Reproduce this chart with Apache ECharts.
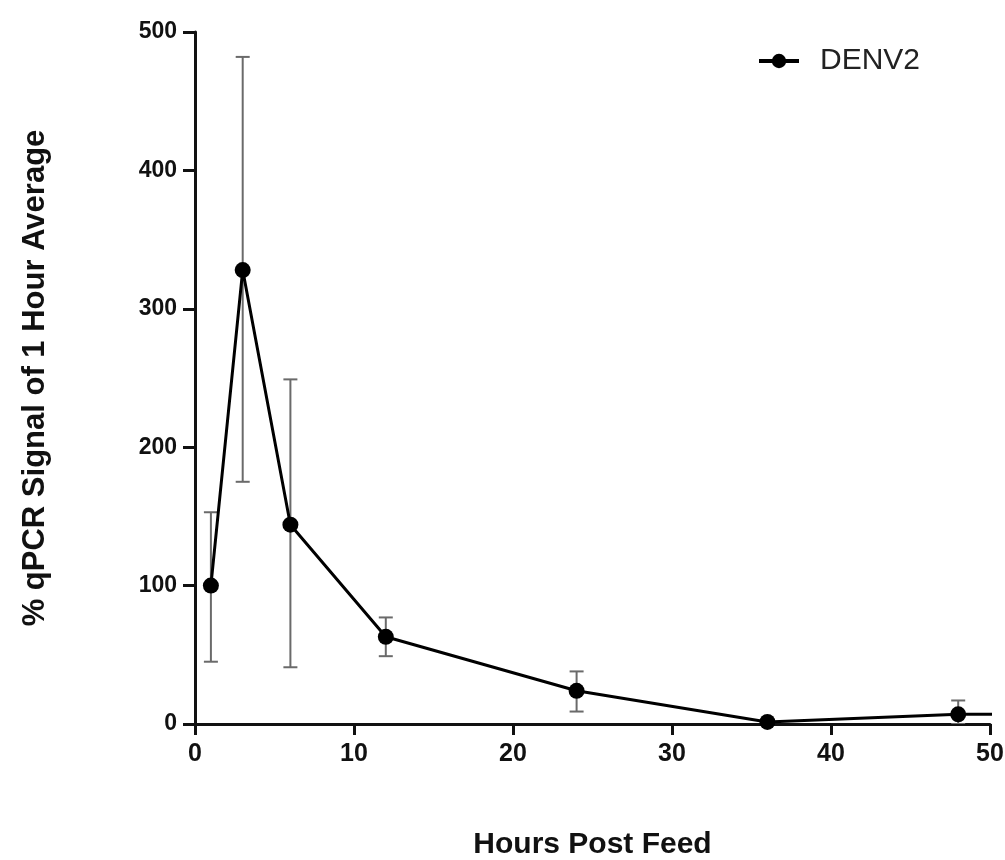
<!DOCTYPE html>
<html>
<head>
<meta charset="utf-8">
<script src="https://cdn.jsdelivr.net/npm/echarts@6/dist/echarts.min.js"></script>
<style>
  html, body { margin: 0; padding: 0; background: #fff; }
  #chart_container { width: 1005px; height: 860px; }
</style>
</head>
<body>
<div id="chart_container"></div>
<script>
// hours post feed and mean signal (% of 1 hour average)
var hours = [1, 3, 6, 12, 24, 36, 48, 72];
var denv2 = [100, 328, 144, 63, 24, 1.5, 7, 8];
// error bar ends
var err_low = [45, 175, 41, 49, 9, 0, 0];
var err_high = [153, 482, 249, 77, 38, 3, 17];

var xTicks = [0, 10, 20, 30, 40, 50];
var yTicks = [0, 100, 200, 300, 400, 500];

var dom = document.getElementById("chart_container");
var myChart = echarts.init(dom);

var lineData = hours.map(function (h, i) { return [h, denv2[i]]; });
var errData = err_low.map(function (lo, i) { return [hours[i], lo, err_high[i]]; });

var font = 'Liberation Sans, Arial, sans-serif';

var option = {
    animation: false,
    backgroundColor: '#fff',
    grid: { left: 195, right: 15, top: 32, bottom: 136, outerBoundsMode: 'none', containLabel: false },
    legend: {
        left: 757,
        top: 46,
        padding: 0,
        itemWidth: 40,
        itemHeight: 18,
        lineStyle: { width: 4 },
        textStyle: { fontFamily: font, fontSize: 30, color: '#222', padding: [0, 0, 0, 16] },
        data: ['DENV2']
    },
    xAxis: {
        type: 'value',
        min: xTicks[0],
        max: xTicks[xTicks.length - 1],
        interval: 10,
        name: 'Hours Post Feed',
        nameLocation: 'middle',
        nameGap: 106,
        nameTextStyle: { fontFamily: font, fontSize: 30, fontWeight: 'bold', color: '#111' },
        axisLine: { lineStyle: { color: '#111', width: 3 } },
        axisTick: { show: true, length: 11, lineStyle: { color: '#111', width: 3 } },
        axisLabel: { fontFamily: font, fontSize: 25, fontWeight: 'bold', color: '#111', margin: 18 },
        splitLine: { show: false }
    },
    yAxis: {
        type: 'value',
        min: yTicks[0],
        max: yTicks[yTicks.length - 1],
        interval: 100,
        name: '% qPCR Signal of 1 Hour Average',
        nameLocation: 'middle',
        nameGap: 144,
        nameTextStyle: { fontFamily: font, fontSize: 31, fontWeight: 'bold', color: '#111' },
        axisLine: { show: true, lineStyle: { color: '#111', width: 3 } },
        axisTick: { show: true, length: 12, lineStyle: { color: '#111', width: 3 } },
        axisLabel: { fontFamily: font, fontSize: 23, fontWeight: 'bold', color: '#111', margin: 18 },
        splitLine: { show: false }
    },
    series: [
        {
            name: 'error',
            type: 'custom',
            z: 1,
            clip: true,
            renderItem: function (params, api) {
                var x = api.value(0);
                var lo = api.coord([x, api.value(1)]);
                var hi = api.coord([x, api.value(2)]);
                var cap = 7;
                var style = { stroke: '#6a6a6a', lineWidth: 2 };
                return {
                    type: 'group',
                    children: [
                        { type: 'line', shape: { x1: lo[0], y1: lo[1], x2: hi[0], y2: hi[1] }, style: style },
                        { type: 'line', shape: { x1: hi[0] - cap, y1: hi[1], x2: hi[0] + cap, y2: hi[1] }, style: style },
                        { type: 'line', shape: { x1: lo[0] - cap, y1: lo[1], x2: lo[0] + cap, y2: lo[1] }, style: style }
                    ]
                };
            },
            encode: { x: 0, y: [1, 2] },
            data: errData
        },
        {
            name: 'DENV2',
            type: 'line',
            z: 3,
            clip: true,
            symbol: 'circle',
            symbolSize: 16,
            showSymbol: true,
            itemStyle: { color: '#000' },
            lineStyle: { color: '#000', width: 3 },
            data: lineData
        }
    ]
};

myChart.setOption(option, true);
</script>
</body>
</html>
